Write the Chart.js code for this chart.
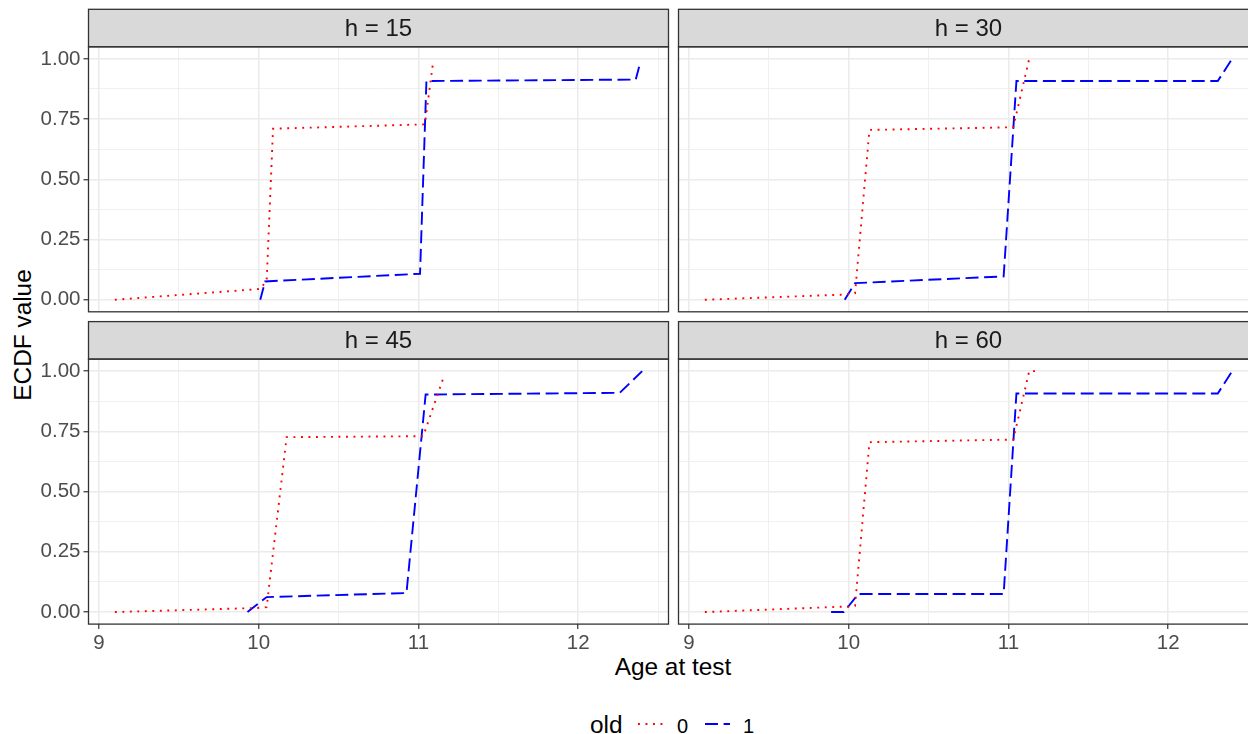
<!DOCTYPE html>
<html>
<head>
<meta charset="utf-8">
<script src="https://cdn.jsdelivr.net/npm/chart.js@4.4.0/dist/chart.umd.min.js"></script>
<style>
  html, body { margin: 0; padding: 0; background: #fff; }
  body { width: 1248px; height: 734px; overflow: hidden; position: relative;
         font-family: "Liberation Sans", Arial, sans-serif; }
  canvas { position: absolute; }
  .txt { position: absolute; white-space: nowrap; line-height: 1; color: #000; }
</style>
</head>
<body>

<div class="txt" id="ytitle" style="font-size:24.4px; left:23.3px; top:335px; transform:translate(-50%,-50%) rotate(-90deg);">ECDF value</div>
<div class="txt" id="xtitle" style="font-size:24.4px; left:673px; top:655.3px; transform:translateX(-50%);">Age at test</div>

<div class="txt" style="font-size:24.4px; left:590px; top:712.7px;">old</div>
<svg style="position:absolute; left:0; top:0;" width="1248" height="734">
  <line x1="638" y1="724" x2="663" y2="724" stroke="#FF0000" stroke-width="1.9" stroke-dasharray="1.9 5.6"/>
  <line x1="705" y1="724" x2="730" y2="724" stroke="#0000FF" stroke-width="1.9" stroke-dasharray="13 5.6"/>
</svg>
<div class="txt" style="font-size:20px; left:677px; top:715.8px;">0</div>
<div class="txt" style="font-size:20px; left:743px; top:715.8px;">1</div>

<script>
// facet labels, ticks, legend levels
const facetLabels = ['h = 15', 'h = 30', 'h = 45', 'h = 60'];
const xMajor = [9, 10, 11, 12];
const xMinor = [9.5, 10.5, 11.5, 12.5];
const yMajor = [0, 0.25, 0.5, 0.75, 1];
const yMinor = [0.125, 0.375, 0.625, 0.875];

// old = 0 (red, dotted)
const age0_h15 = [9.10, 10.01, 10.05, 10.09, 11.04, 11.09];
const ecdf0_h15 = [0.00, 0.045, 0.08, 0.71, 0.728, 0.978];
const age0_h30 = [9.10, 9.95, 10.04, 10.13, 11.03, 11.13];
const ecdf0_h30 = [0.00, 0.021, 0.027, 0.705, 0.716, 1.00];
const age0_h45 = [9.10, 9.99, 10.05, 10.175, 11.03, 11.16];
const ecdf0_h45 = [0.00, 0.017, 0.02, 0.726, 0.73, 0.98];
const age0_h60 = [9.10, 9.99, 10.04, 10.13, 11.03, 11.13, 11.18];
const ecdf0_h60 = [0.00, 0.023, 0.026, 0.705, 0.716, 1.00, 1.00];

// old = 1 (blue, dashed)
const age1_h15 = [10.01, 10.04, 11.01, 11.05, 12.36, 12.39];
const ecdf1_h15 = [0.00, 0.076, 0.108, 0.908, 0.914, 0.99];
const age1_h30 = [9.975, 10.04, 10.97, 11.05, 12.31, 12.40];
const ecdf1_h30 = [0.00, 0.069, 0.097, 0.908, 0.908, 1.00];
const age1_h45 = [9.93, 10.05, 10.925, 11.045, 12.26, 12.40];
const ecdf1_h45 = [0.00, 0.062, 0.079, 0.903, 0.91, 1.00];
const age1_h60 = [9.89, 9.97, 10.06, 10.97, 11.05, 12.31, 12.40];
const ecdf1_h60 = [0.00, 0.00, 0.075, 0.075, 0.907, 0.907, 1.00];

const panels = [
  { label: facetLabels[0], col: 0, row: 0, a0: age0_h15, e0: ecdf0_h15, a1: age1_h15, e1: ecdf1_h15 },
  { label: facetLabels[1], col: 1, row: 0, a0: age0_h30, e0: ecdf0_h30, a1: age1_h30, e1: ecdf1_h30 },
  { label: facetLabels[2], col: 0, row: 1, a0: age0_h45, e0: ecdf0_h45, a1: age1_h45, e1: ecdf1_h45 },
  { label: facetLabels[3], col: 1, row: 1, a0: age0_h60, e0: ecdf0_h60, a1: age1_h60, e1: ecdf1_h60 }
];

// panel geometry (ggplot facet_wrap look)
const colLeft = [88.5, 678.5];
const plotW = 580;
const stripTop = [9.3, 321.6];
const stripH = 37.5;
const plotH = 265;
const xMin = 8.935, xMax = 12.565;
const yMin = -0.05, yMax = 1.05;
const FONT = '"Liberation Sans", Arial, sans-serif';

function isMajor(v, majors) {
  return majors.some(m => Math.abs(m - v) < 1e-9);
}

const facetFrame = {
  id: 'facetFrame',
  afterDraw(chart, args, opts) {
    const ctx = chart.ctx;
    const a = chart.chartArea;
    ctx.save();
    ctx.fillStyle = '#D9D9D9';
    ctx.fillRect(a.left, a.top - stripH, a.right - a.left, stripH);
    ctx.strokeStyle = '#333333';
    ctx.lineWidth = 1.3;
    ctx.strokeRect(a.left, a.top - stripH, a.right - a.left, stripH);
    ctx.strokeRect(a.left, a.top, a.right - a.left, a.bottom - a.top);
    ctx.fillStyle = '#1A1A1A';
    ctx.font = '24px ' + FONT;
    ctx.textAlign = 'center';
    ctx.textBaseline = 'middle';
    ctx.fillText(opts.label, (a.left + a.right) / 2, a.top - stripH / 2 + 1);
    ctx.restore();
  }
};

panels.forEach(function(p) {
  const plotLeft = colLeft[p.col];
  const plotRight = plotLeft + plotW;
  const sTop = stripTop[p.row];
  const plotBottom = sTop + stripH + plotH;

  const cl = p.col === 0 ? 0 : Math.floor(plotLeft) - 2;
  const ct = Math.floor(sTop) - 2;
  const cr = Math.ceil(plotRight) + 2;
  const cb = p.row === 1 ? 664 : Math.ceil(plotBottom) + 2;

  const canvas = document.createElement('canvas');
  canvas.width = cr - cl;
  canvas.height = cb - ct;
  canvas.style.left = cl + 'px';
  canvas.style.top = ct + 'px';
  canvas.style.width = (cr - cl) + 'px';
  canvas.style.height = (cb - ct) + 'px';
  document.body.appendChild(canvas);

  const showY = p.col === 0;
  const showX = p.row === 1;

  new Chart(canvas, {
    type: 'line',
    data: {
      datasets: [
        {
          label: '0',
          data: p.a0.map((x, i) => ({ x: x, y: p.e0[i] })),
          borderColor: '#FF0000',
          borderWidth: 1.9,
          borderDash: [1.9, 5.6],
          pointRadius: 0,
          tension: 0,
          fill: false
        },
        {
          label: '1',
          data: p.a1.map((x, i) => ({ x: x, y: p.e1[i] })),
          borderColor: '#0000FF',
          borderWidth: 1.9,
          borderDash: [13, 5.6],
          pointRadius: 0,
          tension: 0,
          fill: false
        }
      ]
    },
    options: {
      responsive: false,
      animation: false,
      devicePixelRatio: 1,
      layout: {
        padding: {
          left: p.col === 0 ? 0 : plotLeft - cl,
          top: sTop - ct + stripH,
          right: cr - plotRight,
          bottom: p.row === 1 ? 0 : cb - plotBottom
        }
      },
      plugins: {
        legend: { display: false },
        tooltip: { enabled: false },
        facetFrame: { label: p.label }
      },
      scales: {
        x: {
          type: 'linear',
          min: xMin,
          max: xMax,
          afterBuildTicks: function(scale) {
            scale.ticks = xMajor.concat(xMinor).sort((a, b) => a - b).map(v => ({ value: v }));
          },
          afterFit: function(scale) {
            scale.height = showX ? cb - plotBottom : 0;
            scale.paddingLeft = 0;
            scale.paddingRight = 0;
          },
          border: { display: false },
          grid: {
            color: '#EBEBEB',
            lineWidth: ctx => (ctx.tick && isMajor(ctx.tick.value, xMajor)) ? 1.5 : 0.75,
            drawTicks: showX,
            tickLength: 5,
            tickWidth: 1.2,
            tickColor: ctx => (ctx.tick && isMajor(ctx.tick.value, xMajor)) ? '#333333' : 'rgba(0,0,0,0)'
          },
          ticks: {
            display: showX,
            autoSkip: false,
            maxRotation: 0,
            padding: 2,
            color: '#4D4D4D',
            font: { size: 20.5, family: FONT },
            callback: v => isMajor(v, xMajor) ? String(v) : ''
          }
        },
        y: {
          type: 'linear',
          min: yMin,
          max: yMax,
          afterBuildTicks: function(scale) {
            scale.ticks = yMajor.concat(yMinor).sort((a, b) => a - b).map(v => ({ value: v }));
          },
          afterFit: function(scale) {
            scale.width = showY ? plotLeft : 0;
            scale.paddingTop = 0;
            scale.paddingBottom = 0;
          },
          border: { display: false },
          grid: {
            color: '#EBEBEB',
            lineWidth: ctx => (ctx.tick && isMajor(ctx.tick.value, yMajor)) ? 1.5 : 0.75,
            drawTicks: showY,
            tickLength: 5,
            tickWidth: 1.2,
            tickColor: ctx => (ctx.tick && isMajor(ctx.tick.value, yMajor)) ? '#333333' : 'rgba(0,0,0,0)'
          },
          ticks: {
            display: showY,
            autoSkip: false,
            padding: 3,
            color: '#4D4D4D',
            font: { size: 20.5, family: FONT },
            callback: v => isMajor(v, yMajor) ? v.toFixed(2) : ''
          }
        }
      }
    },
    plugins: [facetFrame]
  });
});
</script>
</body>
</html>
